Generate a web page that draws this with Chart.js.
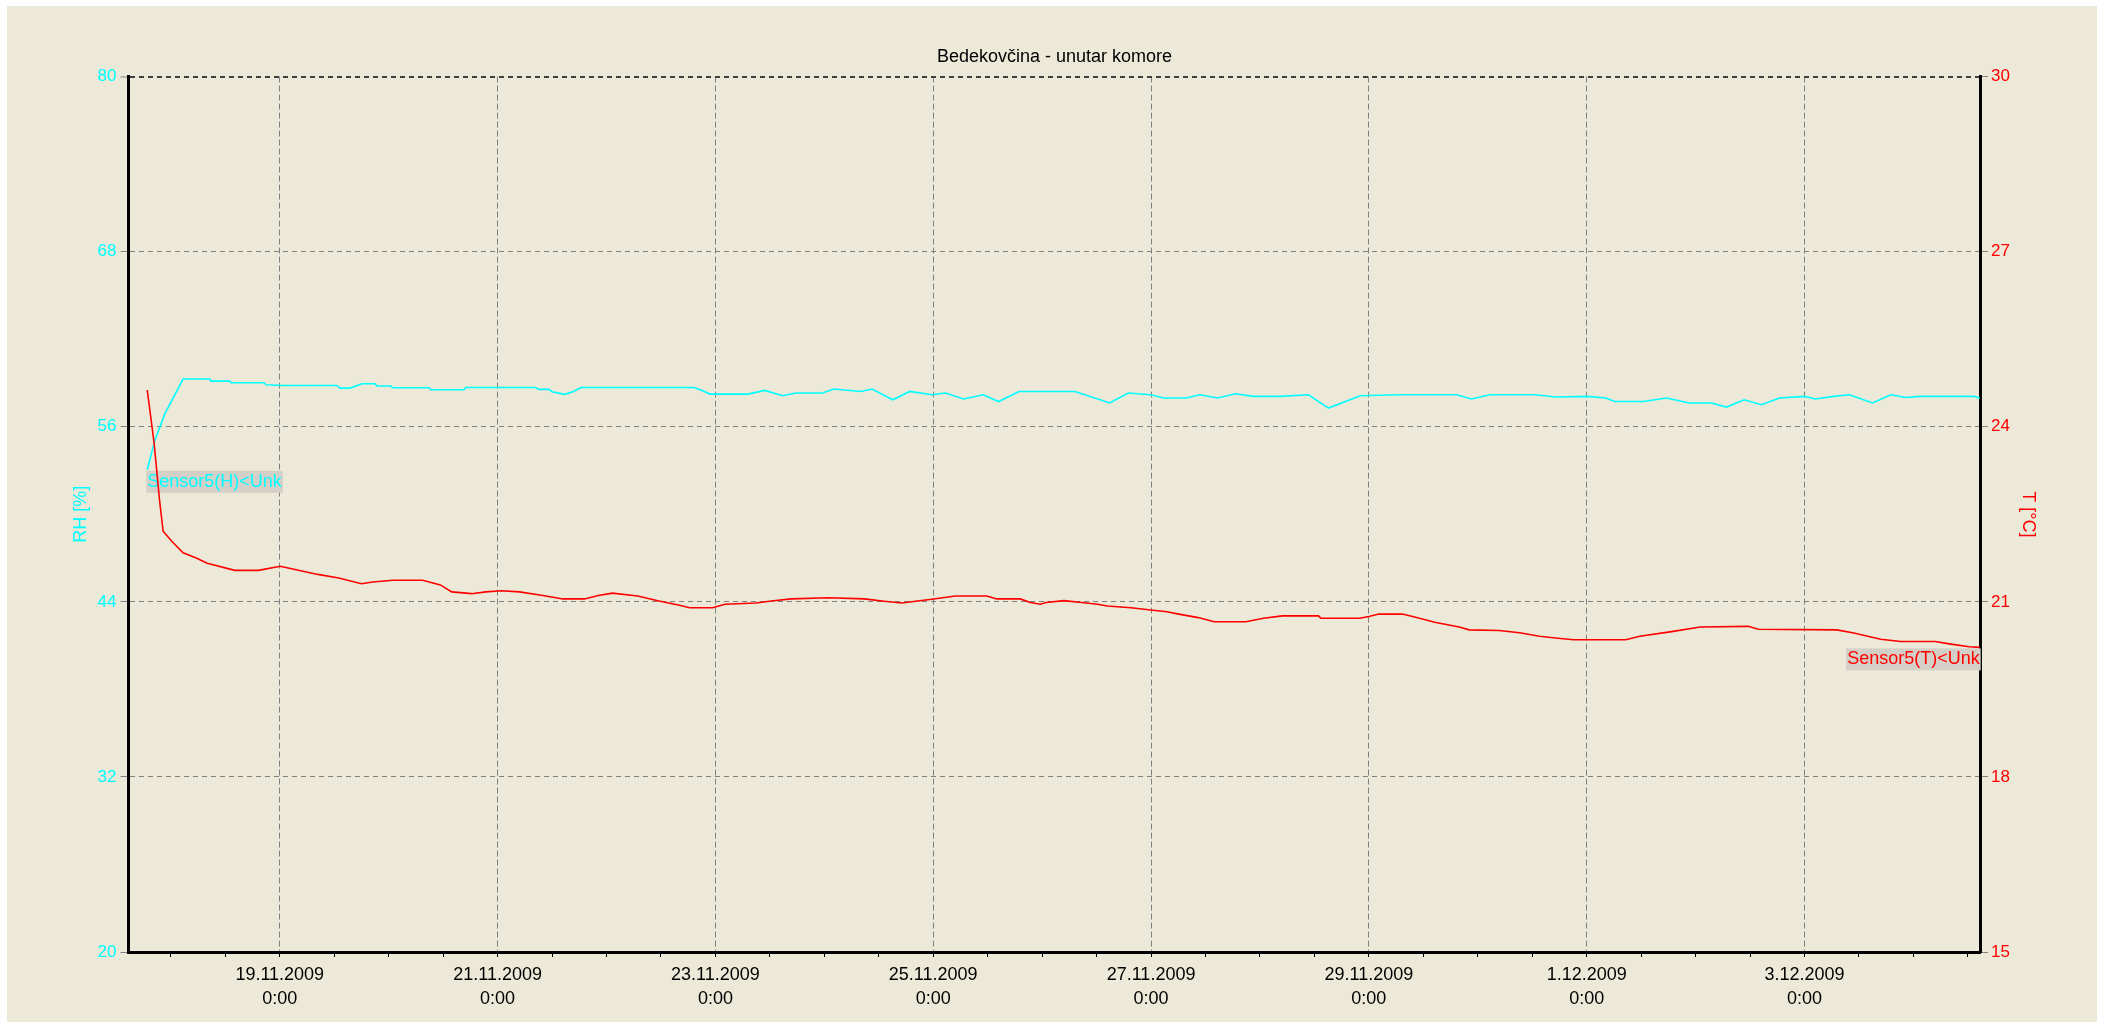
<!DOCTYPE html>
<html>
<head>
<meta charset="utf-8">
<title>Bedekovčina - unutar komore</title>
<script src="https://cdn.jsdelivr.net/npm/chart.js@4.4.0/dist/chart.umd.min.js"></script>
<style>
  html, body { margin: 0; padding: 0; background: #fff; }
  #wrap { position: relative; width: 2109px; height: 1022px; }
</style>
</head>
<body>
<div id="wrap"><canvas id="chart"></canvas></div>
<script>
// time axis is in hours since 17.11.2009 0:00
const xMin = 14.67, xMax = 422.67;

// RH [%] - Sensor5(H)
const rhHours = [18.8,20.5,22.7,26.7,32.6,32.8,37.0,37.3,44.5,45.0,48.9,60.6,61.3,63.5,66.1,69.0,69.4,72.5,72.9,80.9,
  81.3,88.6,89.0,104.4,105.1,107.3,108.0,110.8,112.6,114.4,139.3,141.2,142.8,151.2,154.9,158.8,161.7,167.6,170.1,176.0,
  178.5,183.1,186.8,191.7,194.7,198.7,203.0,206.4,210.9,223.2,230.9,235.0,239.9,242.8,247.8,250.7,254.7,258.6,262.5,268.4,
  274.7,279.1,286.1,294.8,307.3,310.6,314.7,324.7,329.2,336.2,340.2,342.2,348.5,353.6,358.6,363.5,366.8,370.7,374.5,378.5,
  384.0,386.4,390.4,393.9,399.0,403.0,406.4,409.3,421.4,422.6];
const rhValues = [53.05,55.1,56.9,59.27,59.27,59.13,59.13,59.02,59.02,58.88,58.83,58.83,58.65,58.65,58.95,58.95,58.79,58.79,58.67,58.67,
  58.54,58.54,58.69,58.69,58.56,58.56,58.4,58.22,58.4,58.69,58.69,58.47,58.24,58.24,58.49,58.13,58.31,58.31,58.59,58.42,
  58.59,57.85,58.42,58.19,58.31,57.9,58.19,57.73,58.42,58.42,57.63,58.31,58.19,57.97,57.97,58.19,57.97,58.26,58.08,58.08,
  58.19,57.28,58.13,58.19,58.19,57.9,58.19,58.19,58.04,58.08,57.97,57.73,57.73,57.97,57.63,57.63,57.35,57.85,57.51,57.97,
  58.08,57.9,58.08,58.19,57.63,58.19,58.01,58.08,58.08,57.97];

// T [°C] - Sensor5(T)
const tHours = [18.8,20.3,21.5,22.3,24.3,26.7,29.6,32.0,38.1,43.3,48.1,51.1,56.4,61.0,66.0,68.5,72.9,79.5,83.4,85.9,
  90.3,93.4,96.9,100.8,106.0,110.4,115.2,118.2,121.3,126.9,131.3,136.1,138.3,143.4,146.1,152.9,156.8,160.7,169.0,176.8,
  181.2,185.1,189.0,192.1,196.9,203.8,206.0,211.2,213.4,215.6,216.9,220.8,224.7,228.2,230.4,235.6,239.9,243.5,246.1,250.4,
  253.9,260.9,264.8,268.9,276.9,277.4,286.0,288.0,290.2,295.4,298.1,302.5,307.9,310.1,316.7,321.2,325.6,329.1,333.1,344.6,
  347.7,354.7,361.0,371.6,373.8,391.1,394.6,400.8,405.2,412.8,415.9,420.3,422.6];
const tValues = [24.63,23.73,22.75,22.21,22.03,21.84,21.75,21.66,21.54,21.54,21.61,21.56,21.47,21.41,21.31,21.34,21.37,21.37,21.29,21.17,
  21.14,21.17,21.19,21.17,21.11,21.05,21.05,21.11,21.15,21.1,21.02,20.94,20.9,20.9,20.96,20.98,21.02,21.05,21.07,21.05,
  21.01,20.98,21.02,21.05,21.1,21.1,21.05,21.05,20.99,20.96,20.99,21.02,20.99,20.96,20.93,20.9,20.86,20.83,20.79,20.73,
  20.66,20.66,20.72,20.76,20.76,20.72,20.72,20.75,20.79,20.79,20.74,20.65,20.57,20.52,20.51,20.47,20.41,20.38,20.35,20.35,
  20.41,20.49,20.57,20.58,20.53,20.52,20.47,20.36,20.32,20.32,20.28,20.23,20.22];

const rhTicks = [20, 32, 44, 56, 68, 80];
const tTicks = [15, 18, 21, 24, 27, 30];

// a tick every 12 h, a date label every 2 days
const xTickHours = [];
for (let h = 24; h <= 420; h += 12) xTickHours.push(h);

const FONT = '"Liberation Sans", Arial, sans-serif';
Chart.defaults.font.family = FONT;

function dateLabel(h) {
  const d = new Date(2009, 10, 17 + h / 24);
  return d.getDate() + '.' + (d.getMonth() + 1) + '.' + d.getFullYear();
}

function toPoints(xs, ys) {
  return xs.map((x, i) => ({ x: x, y: ys[i] }));
}

// beige panel like the original window
const panel = {
  id: 'panel',
  beforeDraw(chart) {
    const ctx = chart.ctx;
    ctx.save();
    ctx.fillStyle = '#ffffff';
    ctx.fillRect(0, 0, chart.width, chart.height);
    ctx.fillStyle = '#ece9d8';
    ctx.fillRect(7, 6, 2090, chart.height - 6);
    ctx.restore();
  }
};

// grey name tags at the start of RH and the end of T
function drawTag(ctx, text, x, y, color, align) {
  ctx.save();
  ctx.font = '18px ' + FONT;
  ctx.textBaseline = 'middle';
  const w = ctx.measureText(text).width;
  const x0 = align === 'left' ? x : x - w;
  ctx.fillStyle = '#d4d0c8';
  ctx.fillRect(x0 - 1, y + 1, w + 2, 22);
  ctx.fillStyle = color;
  ctx.textAlign = 'left';
  ctx.fillText(text, x0, y + 12);
  ctx.restore();
}

const tags = {
  id: 'tags',
  afterDatasetDraw(chart, args) {
    const pts = args.meta.data;
    if (!pts.length) return;
    if (args.meta.label === 'Sensor5(H)') {
      drawTag(chart.ctx, 'Sensor5(H)<Unk', pts[0].x, pts[0].y, '#00ffff', 'left');
    } else {
      const last = pts[pts.length - 1];
      drawTag(chart.ctx, 'Sensor5(T)<Unk', last.x, last.y, '#ff0000', 'right');
    }
  }
};

new Chart(document.getElementById('chart'), {
  type: 'line',
  data: {
    datasets: [
      {
        label: 'Sensor5(H)',
        data: toPoints(rhHours, rhValues),
        yAxisID: 'y',
        borderColor: '#00ffff',
        borderWidth: 1.6,
        pointRadius: 0,
        tension: 0,
        order: 2
      },
      {
        label: 'Sensor5(T)',
        data: toPoints(tHours, tValues),
        yAxisID: 'y1',
        borderColor: '#ff0000',
        borderWidth: 1.6,
        pointRadius: 0,
        tension: 0,
        order: 1
      }
    ]
  },
  options: {
    responsive: true,
    maintainAspectRatio: false,
    animation: false,
    layout: { padding: 0 },
    plugins: {
      legend: { display: false },
      tooltip: { enabled: false },
      title: {
        display: true,
        text: 'Bedekovčina - unutar komore',
        color: '#000',
        font: { size: 18, weight: 'normal', lineHeight: 1.2 },
        padding: { top: 46, bottom: 9 }
      }
    },
    scales: {
      x: {
        type: 'linear',
        min: xMin,
        max: xMax,
        afterBuildTicks: s => { s.ticks = xTickHours.map(v => ({ value: v })); },
        afterFit: s => { s.height = 70; },
        grid: {
          color: c => (c.tick && c.tick.value % 48 === 0) ? '#808080' : 'rgba(0,0,0,0)',
          lineWidth: 1,
          tickLength: 5,
          tickColor: '#000',
          tickWidth: 1
        },
        border: { color: '#000', width: 3, dash: [6, 3], z: 1 },
        ticks: {
          autoSkip: false,
          maxRotation: 0,
          minRotation: 0,
          padding: 6,
          color: '#000',
          font: { size: 18, lineHeight: 1.333 },
          callback: v => v % 48 === 0 ? [dateLabel(v), '0:00'] : ''
        }
      },
      y: {
        position: 'left',
        min: 20,
        max: 80,
        afterBuildTicks: s => { s.ticks = rhTicks.map(v => ({ value: v })); },
        afterFit: s => { s.width = 128.5; },
        grid: {
          color: c => (c.tick && c.tick.value === 80) ? '#404040' : '#808080',
          lineWidth: c => (c.tick && c.tick.value === 80) ? 2 : 1,
          tickLength: 8,
          tickColor: '#808080',
          tickWidth: 1
        },
        border: { color: '#000', width: 3, dash: [5, 4] },
        ticks: { color: '#00ffff', padding: 4, font: { size: 17 } },
        title: {
          display: true,
          text: 'RH [%]',
          color: '#00ffff',
          font: { size: 18, lineHeight: 1.2 },
          padding: { top: 70, bottom: 0 }
        }
      },
      y1: {
        position: 'right',
        min: 15,
        max: 30,
        afterBuildTicks: s => { s.ticks = tTicks.map(v => ({ value: v })); },
        afterFit: s => { s.width = 129; },
        grid: {
          drawOnChartArea: false,
          tickLength: 8,
          tickColor: '#808080',
          tickWidth: 1
        },
        border: { color: '#000', width: 3 },
        ticks: { color: '#ff0000', padding: 3, font: { size: 17 } },
        title: {
          display: true,
          text: 'T [°C]',
          color: '#ff0000',
          font: { size: 18, lineHeight: 1.2 },
          padding: { top: 70, bottom: 0 }
        }
      }
    }
  },
  plugins: [panel, tags]
});
</script>
</body>
</html>
